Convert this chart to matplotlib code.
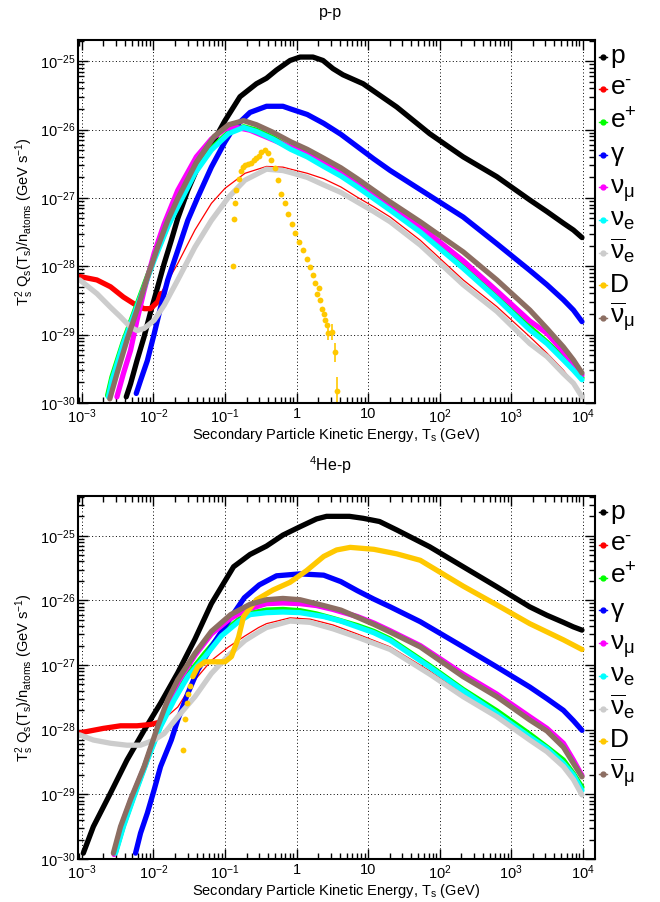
import numpy as np
import matplotlib
matplotlib.use('Agg')
import matplotlib.pyplot as plt
from matplotlib.ticker import FixedLocator, FuncFormatter, NullFormatter

plt.rcParams['font.family'] = ['Liberation Sans', 'DejaVu Sans']
plt.rcParams['mathtext.fontset'] = 'custom'
plt.rcParams['mathtext.rm'] = 'Liberation Sans'
plt.rcParams['mathtext.it'] = 'Liberation Sans:italic'
plt.rcParams['mathtext.default'] = 'regular'

# values as (log10 T [GeV], log10 T^2 Q/n)
# ---- p-p ----
pp_p = [(-2.38, -29.91), (-2.32, -29.72), (-2.23, -29.38), (-2.13, -29.03), (-2.04, -28.67),
        (-1.94, -28.30), (-1.85, -27.96), (-1.75, -27.62), (-1.66, -27.30), (-1.52, -26.89),
        (-1.38, -26.55), (-1.20, -26.25), (-1.0, -25.87), (-0.79, -25.52), (-0.56, -25.33),
        (-0.42, -25.25), (-0.28, -25.13), (-0.09, -24.99), (0.05, -24.94), (0.23, -24.94),
        (0.37, -24.99), (0.51, -25.11), (0.65, -25.20), (0.93, -25.33), (1.40, -25.67),
        (1.86, -26.06), (2.33, -26.40), (2.80, -26.69), (3.26, -27.03), (3.50, -27.20),
        (3.73, -27.37), (3.87, -27.47), (3.99, -27.58)]
pp_em = [(-3.03, -28.15), (-2.79, -28.20), (-2.60, -28.30), (-2.42, -28.45), (-2.27, -28.55),
         (-2.13, -28.62), (-2.04, -28.62), (-1.94, -28.52), (-1.90, -28.40), (-1.66, -27.96),
         (-1.42, -27.47), (-1.19, -27.08), (-1.0, -26.86), (-0.72, -26.64), (-0.42, -26.54),
         (-0.19, -26.55), (-0.08, -26.58), (0.15, -26.64), (0.38, -26.72), (0.62, -26.84),
         (0.85, -26.99), (1.08, -27.13), (1.31, -27.28), (1.73, -27.62), (2.33, -28.20),
         (2.80, -28.59), (3.26, -29.03), (3.50, -29.27), (3.73, -29.52), (3.87, -29.71), (4.0, -29.93)]
pp_ep = [(-2.64, -29.89), (-2.58, -29.62), (-2.42, -29.10), (-2.23, -28.56), (-1.99, -27.88),
         (-1.80, -27.40), (-1.66, -27.11), (-1.42, -26.62), (-1.19, -26.28), (-0.95, -26.04),
         (-0.74, -25.96), (-0.56, -26.01), (-0.33, -26.12), (-0.08, -26.27), (0.15, -26.38),
         (0.38, -26.52), (0.62, -26.66), (0.85, -26.81), (1.08, -26.98), (1.31, -27.15),
         (1.73, -27.47), (2.33, -27.99), (2.80, -28.43), (3.26, -28.89), (3.50, -29.11),
         (3.73, -29.34), (3.87, -29.49), (3.99, -29.63)]
pp_gam = [(-2.24, -29.86), (-2.18, -29.67), (-2.085, -29.38), (-1.99, -28.99), (-1.90, -28.60),
          (-1.80, -28.20), (-1.66, -27.77), (-1.52, -27.33), (-1.38, -26.99), (-1.19, -26.55),
          (-1.0, -26.18), (-0.88, -25.98), (-0.65, -25.75), (-0.42, -25.66), (-0.19, -25.66),
          (-0.08, -25.70), (0.15, -25.78), (0.38, -25.91), (0.62, -26.07), (0.85, -26.25),
          (1.08, -26.43), (1.31, -26.60), (1.73, -26.88), (2.33, -27.28), (2.80, -27.67),
          (3.26, -28.06), (3.50, -28.27), (3.73, -28.49), (3.87, -28.64), (3.99, -28.81)]
pp_numu = [(-2.51, -29.91), (-2.42, -29.57), (-2.32, -29.23), (-2.23, -28.79), (-2.13, -28.35),
           (-1.99, -27.81), (-1.85, -27.38), (-1.66, -26.89), (-1.40, -26.40), (-1.19, -26.14),
           (-1.0, -25.99), (-0.88, -25.96), (-0.65, -26.01), (-0.42, -26.11), (-0.08, -26.26),
           (0.15, -26.36), (0.38, -26.49), (0.62, -26.63), (0.85, -26.78), (1.08, -26.95),
           (1.31, -27.12), (1.73, -27.42), (2.33, -27.92), (2.80, -28.36), (3.26, -28.80),
           (3.50, -28.98), (3.73, -29.25), (3.87, -29.42), (3.99, -29.59)]
pp_nue = [(-2.63, -29.91), (-2.58, -29.67), (-2.42, -29.13), (-2.23, -28.59), (-1.99, -27.91),
          (-1.80, -27.42), (-1.66, -27.13), (-1.42, -26.64), (-1.19, -26.30), (-0.95, -26.06),
          (-0.74, -25.97), (-0.56, -26.03), (-0.33, -26.14), (-0.08, -26.29), (0.15, -26.40),
          (0.38, -26.54), (0.62, -26.68), (0.85, -26.84), (1.08, -27.01), (1.31, -27.18),
          (1.73, -27.50), (2.33, -28.03), (2.80, -28.47), (3.26, -28.93), (3.50, -29.13),
          (3.73, -29.37), (3.87, -29.52), (3.99, -29.66)]
pp_nueb = [(-3.03, -28.20), (-2.79, -28.40), (-2.60, -28.60), (-2.46, -28.74), (-2.32, -28.89),
           (-2.23, -28.94), (-2.13, -28.91), (-1.99, -28.79), (-1.85, -28.57), (-1.66, -28.20),
           (-1.42, -27.72), (-1.19, -27.33), (-0.95, -26.99), (-0.72, -26.74), (-0.42, -26.58),
           (-0.19, -26.60), (-0.08, -26.63), (0.15, -26.70), (0.38, -26.81), (0.62, -26.92),
           (0.85, -27.06), (1.08, -27.20), (1.31, -27.35), (1.73, -27.69), (2.33, -28.27),
           (2.80, -28.66), (3.26, -29.13), (3.50, -29.32), (3.73, -29.57), (3.87, -29.71), (3.99, -29.91)]
pp_D = [(-0.89, -27.99), (-0.87, -27.31), (-0.86, -27.08), (-0.84, -26.89), (-0.81, -26.72),
        (-0.78, -26.60), (-0.75, -26.55), (-0.72, -26.52), (-0.68, -26.51), (-0.64, -26.49),
        (-0.60, -26.45), (-0.56, -26.42), (-0.53, -26.38), (-0.49, -26.33), (-0.44, -26.30),
        (-0.40, -26.35), (-0.35, -26.45), (-0.30, -26.57), (-0.26, -26.74), (-0.21, -26.94),
        (-0.16, -27.08), (-0.12, -27.23), (-0.07, -27.38), (-0.02, -27.52), (0.04, -27.65),
        (0.09, -27.76), (0.14, -27.89), (0.19, -28.01), (0.23, -28.13), (0.26, -28.25),
        (0.29, -28.40), (0.31, -28.32), (0.33, -28.49), (0.36, -28.62), (0.38, -28.70),
        (0.40, -28.79), (0.42, -28.86), (0.44, -28.98), (0.49, -28.96), (0.54, -29.25), (0.56, -29.83)]
pp_D_err = [(0.44, -29.08, -28.90), (0.49, -29.08, -28.84), (0.54, -29.40, -29.12), (0.56, -30.0, -29.62)]
pp_numub = [(-2.61, -29.94), (-2.51, -29.57), (-2.37, -29.08), (-2.23, -28.64), (-2.085, -28.16),
            (-1.94, -27.72), (-1.80, -27.33), (-1.66, -27.01), (-1.40, -26.48), (-1.15, -26.10),
            (-0.95, -25.93), (-0.74, -25.87), (-0.56, -25.93), (-0.33, -26.04), (-0.08, -26.18),
            (0.15, -26.29), (0.38, -26.42), (0.62, -26.56), (0.85, -26.72), (1.08, -26.89),
            (1.31, -27.06), (1.73, -27.35), (2.33, -27.79), (2.80, -28.20), (3.26, -28.64),
            (3.50, -28.91), (3.73, -29.18), (3.87, -29.37), (3.99, -29.56)]

# ---- 4He-p ----
hep_p = [(-2.98, -29.91), (-2.84, -29.50), (-2.60, -28.98), (-2.37, -28.47), (-2.13, -28.01),
         (-1.90, -27.59), (-1.66, -27.12), (-1.42, -26.60), (-1.19, -26.05), (-1.0, -25.70),
         (-0.88, -25.48), (-0.65, -25.29), (-0.42, -25.16), (-0.19, -24.99), (0.05, -24.86),
         (0.28, -24.74), (0.42, -24.70), (0.74, -24.70), (0.93, -24.73), (1.16, -24.78),
         (1.40, -24.91), (1.86, -25.17), (2.33, -25.48), (2.80, -25.79), (3.26, -26.10),
         (3.50, -26.23), (3.73, -26.34), (3.87, -26.41), (3.99, -26.46)]
hep_em = [(-3.03, -28.05), (-2.89, -28.02), (-2.70, -27.98), (-2.46, -27.94), (-2.23, -27.94),
          (-2.04, -27.92), (-1.90, -27.88), (-1.66, -27.65), (-1.42, -27.23), (-1.19, -26.93),
          (-0.95, -26.72), (-0.72, -26.55), (-0.53, -26.42), (-0.42, -26.36), (-0.09, -26.27),
          (0.19, -26.29), (0.51, -26.38), (0.85, -26.52), (1.31, -26.72), (1.86, -27.09),
          (2.33, -27.45), (2.80, -27.76), (3.26, -28.12), (3.50, -28.31), (3.73, -28.53),
          (3.87, -28.74), (3.99, -28.96)]
hep_ep = [(-2.53, -29.89), (-2.42, -29.48), (-2.27, -29.01), (-2.085, -28.45), (-1.90, -27.93),
          (-1.71, -27.51), (-1.52, -27.15), (-1.28, -26.82), (-1.05, -26.52), (-0.81, -26.30),
          (-0.65, -26.20), (-0.42, -26.15), (-0.19, -26.14), (0.05, -26.16), (0.28, -26.21),
          (0.51, -26.28), (0.85, -26.39), (1.08, -26.48), (1.31, -26.60), (1.86, -27.01),
          (2.33, -27.38), (2.80, -27.71), (3.26, -28.07), (3.50, -28.27), (3.73, -28.47),
          (3.87, -28.68), (3.99, -28.89)]
hep_gam = [(-2.25, -29.91), (-2.18, -29.60), (-2.085, -29.29), (-1.99, -28.93), (-1.90, -28.57),
           (-1.75, -28.16), (-1.66, -27.85), (-1.52, -27.44), (-1.38, -27.08), (-1.19, -26.72),
           (-1.0, -26.40), (-0.73, -25.96), (-0.52, -25.76), (-0.28, -25.62), (0.05, -25.59),
           (0.38, -25.61), (0.62, -25.71), (0.85, -25.85), (1.08, -25.98), (1.31, -26.10),
           (1.73, -26.33), (2.33, -26.72), (2.80, -27.03), (3.26, -27.34), (3.50, -27.52),
           (3.73, -27.70), (3.87, -27.86), (3.99, -28.01)]
hep_numu = [(-2.55, -29.93), (-2.45, -29.50), (-2.31, -29.07), (-2.12, -28.56), (-1.93, -27.96),
            (-1.79, -27.56), (-1.65, -27.25), (-1.42, -26.85), (-1.19, -26.52), (-0.95, -26.30),
            (-0.72, -26.15), (-0.42, -26.05), (-0.19, -26.04), (0.05, -26.05), (0.28, -26.08),
            (0.51, -26.14), (0.85, -26.25), (1.08, -26.35), (1.31, -26.47), (1.73, -26.70),
            (2.33, -27.14), (2.80, -27.45), (3.26, -27.80), (3.50, -27.98), (3.73, -28.21),
            (3.87, -28.47), (3.99, -28.71)]
hep_nue = [(-2.53, -29.91), (-2.42, -29.50), (-2.27, -29.03), (-2.085, -28.47), (-1.90, -27.95),
           (-1.71, -27.54), (-1.52, -27.18), (-1.28, -26.87), (-1.05, -26.55), (-0.81, -26.33),
           (-0.65, -26.22), (-0.42, -26.19), (-0.19, -26.18), (0.05, -26.19), (0.38, -26.25),
           (0.62, -26.32), (0.85, -26.41), (1.08, -26.50), (1.31, -26.62), (1.86, -27.03),
           (2.33, -27.40), (2.80, -27.75), (3.26, -28.11), (3.50, -28.29), (3.73, -28.52),
           (3.87, -28.70), (3.99, -28.94)]
hep_nueb = [(-3.03, -28.08), (-2.84, -28.16), (-2.60, -28.21), (-2.37, -28.24), (-2.18, -28.24),
            (-1.99, -28.16), (-1.85, -28.06), (-1.66, -27.80), (-1.42, -27.49), (-1.19, -27.13),
            (-0.95, -26.85), (-0.72, -26.62), (-0.53, -26.49), (-0.42, -26.42), (-0.09, -26.32),
            (0.19, -26.34), (0.51, -26.44), (0.85, -26.57), (1.31, -26.76), (1.86, -27.14),
            (2.33, -27.49), (2.80, -27.80), (3.26, -28.16), (3.50, -28.34), (3.73, -28.57),
            (3.87, -28.77), (3.99, -29.01)]
hep_D_pts = [(-1.58, -28.32), (-1.56, -27.84), (-1.53, -27.58), (-1.51, -27.45), (-1.49, -27.33)]
hep_D = [(-1.45, -27.18), (-1.38, -27.03), (-1.28, -26.95), (-1.14, -26.95), (-1.0, -26.95),
         (-0.91, -26.87), (-0.81, -26.57), (-0.74, -26.25), (-0.56, -25.99), (-0.33, -25.84),
         (-0.09, -25.72), (0.14, -25.54), (0.38, -25.32), (0.56, -25.22), (0.75, -25.18),
         (1.08, -25.21), (1.40, -25.28), (1.73, -25.38), (2.33, -25.78), (2.80, -26.07),
         (3.26, -26.36), (3.73, -26.61), (3.99, -26.76)]
hep_numub = [(-2.56, -29.91), (-2.46, -29.50), (-2.32, -29.08), (-2.13, -28.57), (-1.94, -27.95),
             (-1.80, -27.54), (-1.66, -27.23), (-1.42, -26.82), (-1.19, -26.48), (-0.92, -26.22),
             (-0.65, -26.06), (-0.42, -25.99), (-0.19, -25.97), (0.05, -25.99), (0.38, -26.08),
             (0.62, -26.15), (0.85, -26.26), (1.08, -26.37), (1.31, -26.49), (1.73, -26.72),
             (2.33, -27.18), (2.80, -27.49), (3.26, -27.85), (3.50, -28.02), (3.73, -28.27),
             (3.87, -28.52), (3.99, -28.73)]

labels = ['p', r'e$^{\text{-}}$', 'e$^{+}$', r'$\gamma$', r'$\nu_{\mu}$', r'$\nu_{e}$',
          r'$\overline{\nu}_{e}$', 'D', r'$\overline{\nu}_{\mu}$']
colors = ['#000000', '#ff0000', '#00ff00', '#0000ff', '#ff00ff', '#00ffff',
          '#cccccc', '#ffc800', '#8c6e62']

LW = 3.8


def xy(pairs):
    a = np.array(pairs)
    return 10 ** a[:, 0], 10 ** a[:, 1]


def curve(ax, pairs, c, lw=LW):
    x, y = xy(pairs)
    ax.plot(x, y, color=c, lw=lw, solid_capstyle='round', solid_joinstyle='round')


def electron(ax, pairs, c):
    # thick at low energy, thin line above
    x, y = xy(pairs)
    ax.plot(x, y, color=c, lw=0.9)
    m = x <= 10 ** -1.89
    ax.plot(x[m], y[m], color=c, lw=LW, solid_capstyle='round')


def xfmt(v, pos):
    e = int(round(np.log10(v)))
    if e == 0:
        return '1'
    if e == 1:
        return '10'
    return r'$10^{%d}$' % e


def yfmt(v, pos):
    return r'$10^{%d}$' % int(round(np.log10(v)))


def style(ax, ytop, title, ytitle):
    ax.set_xscale('log')
    ax.set_yscale('log')
    xlo, xhi = 10 ** -3.056, 10 ** 4.17
    ax.set_xlim(xlo, xhi)
    ax.set_ylim(1e-30, ytop)
    xmaj = [10.0 ** e for e in range(-3, 5)]
    ymaj = [10.0 ** e for e in range(-30, -24) if 10.0 ** e <= ytop]
    xmin = [s * 10.0 ** e for e in range(-4, 5) for s in range(2, 10) if xlo < s * 10.0 ** e < xhi]
    ymin = [s * 10.0 ** e for e in range(-30, -24) for s in range(2, 10) if s * 10.0 ** e < ytop]
    ax.xaxis.set_major_locator(FixedLocator(xmaj))
    ax.xaxis.set_minor_locator(FixedLocator(xmin))
    ax.yaxis.set_major_locator(FixedLocator(ymaj))
    ax.yaxis.set_minor_locator(FixedLocator(ymin))
    ax.xaxis.set_major_formatter(FuncFormatter(xfmt))
    ax.yaxis.set_major_formatter(FuncFormatter(yfmt))
    ax.xaxis.set_minor_formatter(NullFormatter())
    ax.yaxis.set_minor_formatter(NullFormatter())
    ax.tick_params(which='both', direction='in', top=True, right=True, labelsize=10.5, width=1)
    ax.tick_params(which='major', length=7, pad=3)
    ax.tick_params(which='minor', length=4)
    ax.tick_params(axis='y', pad=2)
    ax.grid(True, which='major', color='k', ls=(0, (1, 2.5)), lw=0.7)
    for s in ax.spines.values():
        s.set_linewidth(1.5)
    ax.set_xlabel('Secondary Particle Kinetic Energy, T$_{s}$ (GeV)', fontsize=10.5)
    ax.xaxis.set_label_coords(0.5, -0.063)
    pos = ax.get_position()
    fig.text(25 / 660, pos.y0 + pos.height / 2,
             'T$_{s}^{2}$ Q$_{s}$(T$_{s}$)/n$_{atoms}$ (GeV s$^{-1}$)',
             rotation=90, ha='center', va='center', fontsize=10.5)
    fig.text(0.5, ytitle, title, ha='center', va='center', fontsize=11.5)
    # legend on the right
    for i, (lab, c) in enumerate(zip(labels, colors)):
        yy = 0.954 - i * 0.0900
        ax.plot([1.0085, 1.024], [yy, yy], color=c, lw=1, transform=ax.transAxes, clip_on=False)
        ax.plot([1.0163], [yy], 'o', color=c, ms=3.5, transform=ax.transAxes, clip_on=False)
        ax.text(1.029, yy - 0.017, lab, transform=ax.transAxes, fontsize=19,
                ha='left', va='baseline')


fig = plt.figure(figsize=(6.6, 9.02), dpi=100)
ax1 = fig.add_axes([0.118, 0.5532, 0.7833, 0.4025])
ax2 = fig.add_axes([0.118, 0.0477, 0.7833, 0.4028])

# p-p
curve(ax1, pp_p, colors[0])
electron(ax1, pp_em, colors[1])
curve(ax1, pp_ep, colors[2])
curve(ax1, pp_gam, colors[3])
curve(ax1, pp_numu, colors[4])
curve(ax1, pp_nue, colors[5])
curve(ax1, pp_nueb, colors[6])
dx, dy = xy(pp_D)
ax1.plot(dx, dy, 'o', color=colors[7], ms=4.2, mec='none')
for t, lo, hi in pp_D_err:
    ax1.vlines(10 ** t, 10 ** lo, 10 ** hi, color=colors[7], lw=1.2)
curve(ax1, pp_numub, colors[8])
style(ax1, 10 ** -24.69, 'p-p', 1 - 12 / 902)

# 4He-p
curve(ax2, hep_p, colors[0])
electron(ax2, hep_em, colors[1])
curve(ax2, hep_ep, colors[2])
curve(ax2, hep_gam, colors[3])
curve(ax2, hep_numu, colors[4])
curve(ax2, hep_nue, colors[5])
curve(ax2, hep_nueb, colors[6])
px, py = xy(hep_D_pts)
ax2.plot(px, py, 'o', color=colors[7], ms=4.2, mec='none')
curve(ax2, hep_D, colors[7])
curve(ax2, hep_numub, colors[8])
style(ax2, 10 ** -24.38, '$^{4}$He-p', 1 - 465 / 902)

fig.savefig('out.png', dpi=100)
